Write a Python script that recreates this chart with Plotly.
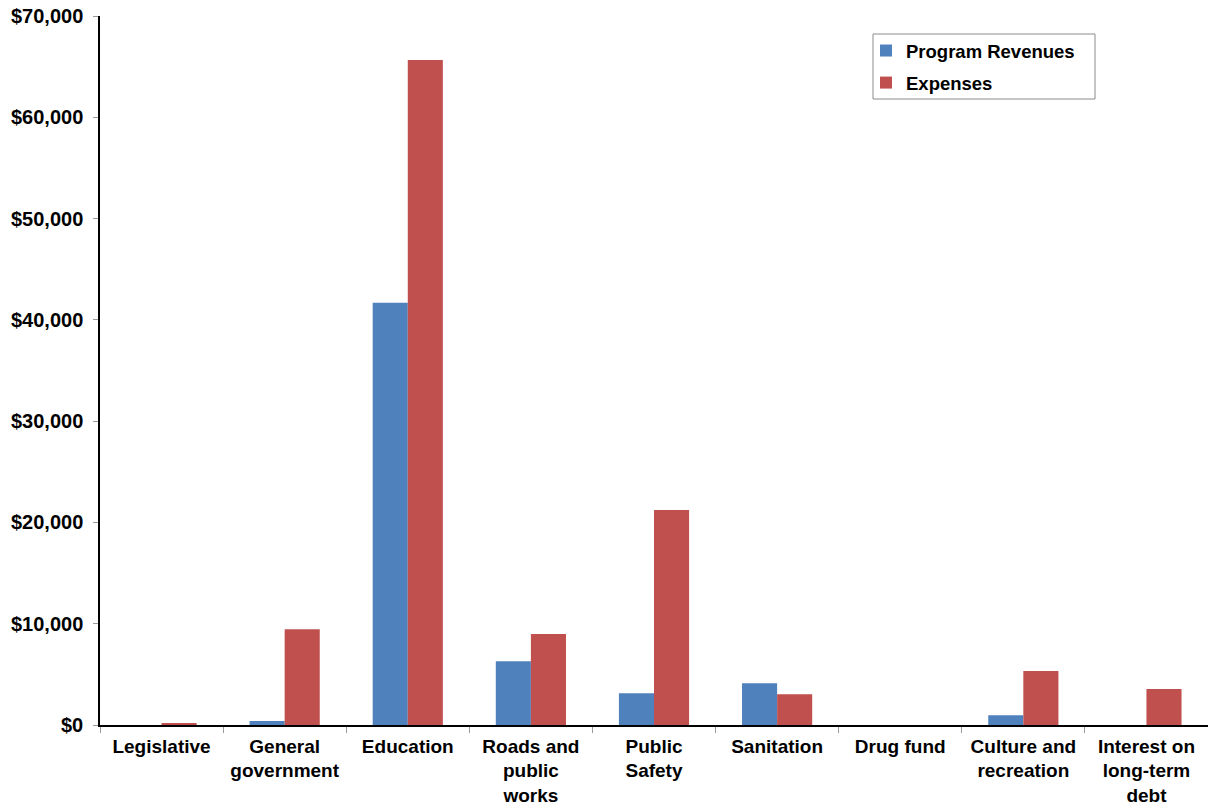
import plotly.graph_objects as go

categories = [
    "Legislative",
    "General<br>government",
    "Education",
    "Roads and<br>public<br>works",
    "Public<br>Safety",
    "Sanitation",
    "Drug fund",
    "Culture and<br>recreation",
    "Interest on<br>long-term<br>debt",
]
program_revenues = [0, 400, 41700, 6300, 3130, 4110, 0, 960, 0]
expenses = [120, 9450, 65650, 8980, 21220, 3030, 0, 5330, 3550]

y_ticks = [0, 10000, 20000, 30000, 40000, 50000, 60000, 70000]

FONT = "Arial, Liberation Sans, sans-serif"

fig = go.Figure()
fig.add_trace(go.Bar(
    name="Program Revenues",
    x=categories,
    y=program_revenues,
    marker=dict(color="#4F81BD", line=dict(width=0)),
    legendgroup="rev",
))
fig.add_trace(go.Bar(
    name="Expenses",
    x=categories,
    y=expenses,
    marker=dict(color="#C0504D", line=dict(width=0)),
    legendgroup="exp",
))

# legend frame
fig.add_shape(
    type="rect", xref="paper", yref="paper",
    x0=(873 - 100) / 1108, x1=(1095 - 100) / 1108,
    y0=(725 - 99) / 709, y1=(725 - 34) / 709,
    line=dict(color="#8C8C8C", width=1),
    fillcolor="white",
    layer="below",
)

fig.update_layout(
    width=1208,
    height=806,
    margin=dict(l=100, r=0, t=16, b=81),
    paper_bgcolor="white",
    plot_bgcolor="white",
    barmode="group",
    bargap=0.43,
    bargroupgap=0,
    font=dict(family=FONT, color="black"),
    legend=dict(
        x=(866 - 100) / 1108,
        y=(725 - 32) / 709,
        xanchor="left",
        yanchor="top",
        borderwidth=0,
        bgcolor="rgba(0,0,0,0)",
        font=dict(family=FONT, size=18.5, weight="bold", color="black"),
        traceorder="grouped",
        tracegroupgap=5,
        itemwidth=30,
    ),
    showlegend=True,
)

fig.update_xaxes(
    type="category",
    tickson="boundaries",
    ticks="outside",
    ticklen=6,
    tickcolor="#9A9A9A",
    showline=True,
    linecolor="black",
    linewidth=1.5,
    showgrid=False,
    tickfont=dict(family=FONT, size=19, weight="bold", color="black"),
    tickangle=0,
    ticklabelstandoff=3,
    automargin=False,
)

fig.update_yaxes(
    range=[0, 70000],
    tickvals=y_ticks,
    tickformat="$,.0f",
    ticks="outside",
    ticklen=5,
    tickcolor="#9A9A9A",
    showline=True,
    linecolor="black",
    linewidth=1.5,
    showgrid=False,
    zeroline=False,
    tickfont=dict(family=FONT, size=20, weight="bold", color="black"),
    ticklabelstandoff=6,
    automargin=False,
)

fig.write_html("out.html")
